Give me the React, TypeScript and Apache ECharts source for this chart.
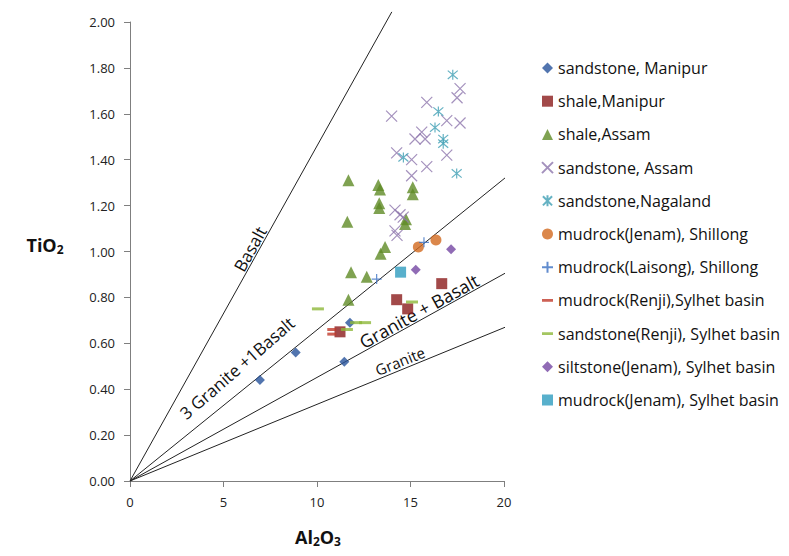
import React, { useEffect, useRef } from "react";
import * as echarts from "echarts";

const xTicks = [0, 5, 10, 15, 20];
const yTicks = [0, 0.2, 0.4, 0.6, 0.8, 1.0, 1.2, 1.4, 1.6, 1.8, 2.0];

const seriesNames = [
  "sandstone, Manipur",
  "shale,Manipur",
  "shale,Assam",
  "sandstone, Assam",
  "sandstone,Nagaland",
  "mudrock(Jenam), Shillong",
  "mudrock(Laisong), Shillong",
  "mudrock(Renji),Sylhet basin",
  "sandstone(Renji), Sylhet basin",
  "siltstone(Jenam), Sylhet basin",
  "mudrock(Jenam), Sylhet basin",
];

const sandstoneManipur = [[6.95, 0.44], [8.86, 0.56], [11.46, 0.52], [11.76, 0.69]];
const shaleManipur = [[11.23, 0.65], [14.26, 0.79], [14.85, 0.75], [16.67, 0.86]];
const shaleAssam = [
  [11.68, 1.31], [13.28, 1.29], [13.37, 1.27], [15.12, 1.28], [15.12, 1.25],
  [13.33, 1.21], [13.33, 1.19], [11.62, 1.13], [14.76, 1.14], [14.71, 1.12],
  [13.64, 1.02], [13.4, 0.99], [11.82, 0.91], [12.66, 0.89], [11.68, 0.79],
];
const sandstoneAssam = [
  [17.65, 1.71], [17.49, 1.67], [15.87, 1.65], [13.99, 1.59], [16.94, 1.57],
  [17.65, 1.56], [15.6, 1.52], [15.24, 1.49], [15.78, 1.49], [14.26, 1.43],
  [15.06, 1.4], [15.87, 1.37], [16.94, 1.42], [15.06, 1.33], [14.17, 1.18],
  [14.44, 1.16], [14.61, 1.15], [14.17, 1.09], [14.28, 1.07],
];
const sandstoneNagaland = [
  [17.26, 1.77], [16.49, 1.61], [16.31, 1.54], [16.75, 1.49], [16.75, 1.47],
  [14.62, 1.41], [17.47, 1.34],
];
const mudrockJenamShillong = [[15.42, 1.02], [16.36, 1.05]];
const mudrockLaisongShillong = [[15.72, 1.04], [13.19, 0.88]];
const mudrockRenjiSylhet = [[10.79, 0.66], [10.79, 0.64]];
const sandstoneRenjiSylhet = [[10.05, 0.75], [12.09, 0.69], [12.57, 0.69], [11.6, 0.66], [15.08, 0.78]];
const siltstoneJenamSylhet = [[17.17, 1.01], [15.28, 0.92]];
const mudrockJenamSylhet = [[14.47, 0.91]];

// Discrimination lines from the origin: [Al2O3 end, TiO2 end]
const basaltLine = [[0, 0], [14.0, 2.044]];
const granite3Basalt1Line = [[0, 0], [20.32, 1.338]];
const graniteBasaltLine = [[0, 0], [20.96, 0.946]];
const graniteLine = [[0, 0], [20.48, 0.684]];

const FONT = "Open Sans";

const X_PATH = "path://M0,0L10,10M0,10L10,0";
const STAR_PATH = "path://M0,0L10,10M0,10L10,0M5,-1L5,11";
const PLUS_PATH = "path://M0,5L10,5M5,0L5,10";
const DASH_PATH = "path://M0,0L12,0L12,3L0,3Z";

export default function App() {
  const ref = useRef<HTMLDivElement>(null);

  useEffect(() => {
    if (!ref.current) return;
    const chart = echarts.init(ref.current, null, { renderer: "svg" });

    const lineSeries = (data: number[][]) => ({
      type: "line",
      data,
      showSymbol: false,
      clip: false,
      silent: true,
      lineStyle: { color: "#222", width: 1 },
      z: 1,
    });

    const scatter = (name: string, data: number[][], symbol: any, size: any, color: string, stroke = false) => ({
      type: "scatter",
      name,
      data,
      symbol,
      symbolSize: size,
      z: 3,
      itemStyle: stroke
        ? { color: color, borderColor: color, borderWidth: 1.2 }
        : { color: color },
    });

    const deg = (d: number) => (d * Math.PI) / 180;

    const option: any = {
      animation: false,
      backgroundColor: "#fff",
      grid: { left: 130, right: 285, top: 22, bottom: 75 },
      xAxis: {
        type: "value",
        min: 0,
        max: 20,
        interval: 5,
        splitLine: { show: false },
        axisLine: { show: true, onZero: false, lineStyle: { color: "#7f7f7f", width: 1 } },
        axisTick: { show: true, length: 6, lineStyle: { color: "#7f7f7f" } },
        axisLabel: { margin: 14, fontFamily: FONT, fontSize: 13, color: "#222" },
      },
      yAxis: {
        type: "value",
        min: 0,
        max: 2,
        interval: 0.2,
        splitLine: { show: false },
        axisLine: { show: true, onZero: false, lineStyle: { color: "#7f7f7f", width: 1 } },
        axisTick: { show: true, length: 6, lineStyle: { color: "#7f7f7f" } },
        axisLabel: {
          margin: 15,
          fontFamily: FONT,
          fontSize: 13,
          color: "#222",
          formatter: (v: number) => v.toFixed(2),
        },
      },
      legend: {
        orient: "vertical",
        left: 536,
        top: 52,
        itemWidth: 11,
        itemHeight: 11,
        itemGap: 11.2,
        textStyle: { fontFamily: FONT, fontSize: 16, color: "#111", lineHeight: 22 },
        data: [
          { name: seriesNames[0], icon: "diamond" },
          { name: seriesNames[1], icon: "rect" },
          { name: seriesNames[2], icon: "triangle" },
          { name: seriesNames[3], icon: X_PATH },
          { name: seriesNames[4], icon: STAR_PATH },
          { name: seriesNames[5], icon: "circle" },
          { name: seriesNames[6], icon: PLUS_PATH },
          { name: seriesNames[7], icon: DASH_PATH },
          { name: seriesNames[8], icon: DASH_PATH },
          { name: seriesNames[9], icon: "diamond" },
          { name: seriesNames[10], icon: "rect" },
        ],
      },
      series: [
        lineSeries(basaltLine),
        lineSeries(granite3Basalt1Line),
        lineSeries(graniteBasaltLine),
        lineSeries(graniteLine),
        scatter(seriesNames[0], sandstoneManipur, "diamond", 10, "#27529b"),
        scatter(seriesNames[1], shaleManipur, "rect", 11, "#8b1c1c"),
        scatter(seriesNames[2], shaleAssam, "triangle", 12, "#5f8b26"),
        scatter(seriesNames[3], sandstoneAssam, X_PATH, 11, "#8d75ad", true),
        scatter(seriesNames[4], sandstoneNagaland, STAR_PATH, 10, "#3e9fb4", true),
        scatter(seriesNames[5], mudrockJenamShillong, "circle", 11, "#d2691e"),
        scatter(seriesNames[6], mudrockLaisongShillong, PLUS_PATH, 10, "#3a6fc2", true),
        scatter(seriesNames[7], mudrockRenjiSylhet, "rect", [9, 3], "#c0392b"),
        scatter(seriesNames[8], sandstoneRenjiSylhet, "rect", [12, 3], "#8db83a"),
        scatter(seriesNames[9], siltstoneJenamSylhet, "diamond", 10, "#7446a3"),
        scatter(seriesNames[10], mudrockJenamSylhet, "rect", 11, "#2e9cbf"),
      ],
      graphic: [
        {
          type: "text",
          x: 250,
          y: 249,
          rotation: deg(61),
          style: { text: "Basalt", fontFamily: FONT, fontSize: 17, fill: "#111", align: "center", verticalAlign: "middle" },
        },
        {
          type: "text",
          x: 237,
          y: 368,
          rotation: deg(41),
          style: { text: "3 Granite +1Basalt", fontFamily: FONT, fontSize: 17, fill: "#111", align: "center", verticalAlign: "middle" },
        },
        {
          type: "text",
          x: 419,
          y: 311,
          rotation: deg(29),
          style: { text: "Granite + Basalt", fontFamily: FONT, fontSize: 18, fill: "#111", align: "center", verticalAlign: "middle" },
        },
        {
          type: "text",
          x: 400,
          y: 361,
          rotation: deg(22),
          style: { text: "Granite", fontFamily: FONT, fontSize: 15, fill: "#111", align: "center", verticalAlign: "middle" },
        },
        {
          type: "text",
          x: 45,
          y: 245,
          style: {
            text: "{b|TiO}{s|2}",
            align: "center",
            verticalAlign: "middle",
            rich: {
              b: { fontFamily: FONT, fontSize: 18, fontWeight: "bold", fill: "#111" },
              s: { fontFamily: FONT, fontSize: 12, fontWeight: "bold", fill: "#111", padding: [9, 0, 0, 0] },
            },
          },
        },
        {
          type: "text",
          x: 318,
          y: 537,
          style: {
            text: "{b|Al}{s|2}{b|O}{s|3}",
            align: "center",
            verticalAlign: "middle",
            rich: {
              b: { fontFamily: FONT, fontSize: 18, fontWeight: "bold", fill: "#111" },
              s: { fontFamily: FONT, fontSize: 12, fontWeight: "bold", fill: "#111", padding: [9, 0, 0, 0] },
            },
          },
        },
      ],
    };

    chart.setOption(option);
    return () => chart.dispose();
  }, []);

  return (
    <div
      ref={ref}
      style={{ position: "fixed", left: 0, top: 0, width: 789, height: 556, background: "#fff" }}
    />
  );
}
